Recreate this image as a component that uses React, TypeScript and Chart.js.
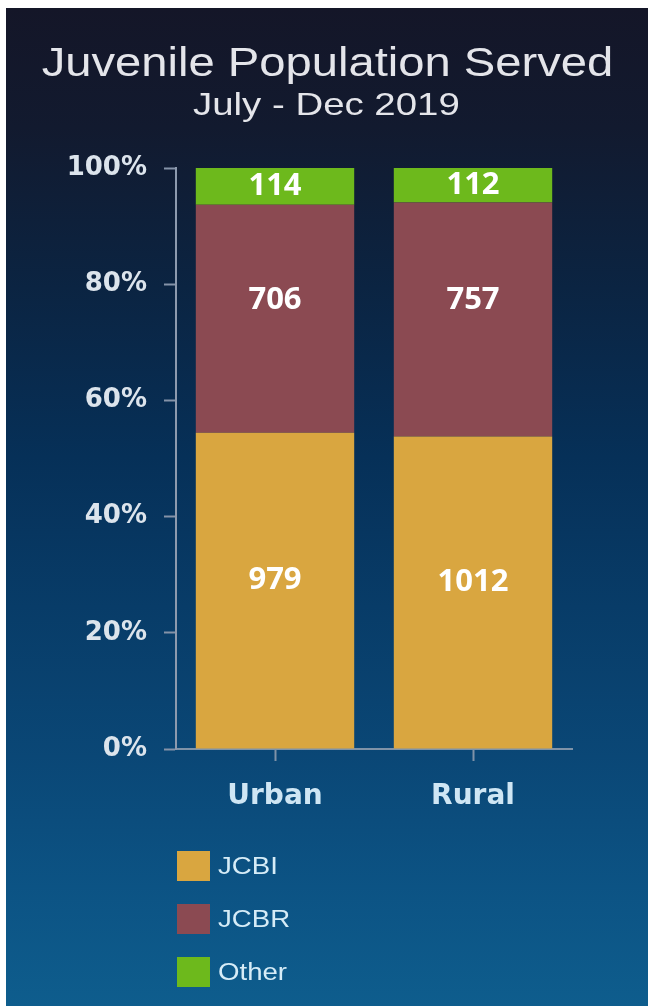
import React, { useEffect, useRef } from 'react';
import { Chart, registerables } from 'chart.js';

Chart.register(...registerables);

// ---- data ----
const categories = ['Urban', 'Rural'];
const jcbiCounts = [979, 1012];
const jcbrCounts = [706, 757];
const otherCounts = [114, 112];
const seriesNames = ['JCBI', 'JCBR', 'Other'];
const seriesColors = ['#d9a640', '#8b4a52', '#6db91c'];
const yTickStep = 20;
const titleText = 'Juvenile Population Served';
const subtitleText = 'July - Dec 2019';

// label lift (px) per series, styling only
const labelLift = [10, 19, 0];

const W = 642;
const H = 998;

export default function App() {
  const canvasRef = useRef<HTMLCanvasElement>(null);

  useEffect(() => {
    const canvas = canvasRef.current;
    if (!canvas) return;
    const series = [jcbiCounts, jcbrCounts, otherCounts];
    const totals = categories.map((_, i) => jcbiCounts[i] + jcbrCounts[i] + otherCounts[i]);

    const segLabels = {
      id: 'segLabels',
      afterDatasetsDraw(chart: any) {
        const ctx = chart.ctx;
        ctx.save();
        ctx.fillStyle = '#ffffff';
        ctx.font = 'bold 31px "Open Sans"';
        ctx.textAlign = 'center';
        ctx.textBaseline = 'middle';
        chart.data.datasets.forEach((ds: any, di: number) => {
          const meta = chart.getDatasetMeta(di);
          meta.data.forEach((el: any, i: number) => {
            const { x, y, base } = el.getProps(['x', 'y', 'base'], true);
            const cy = (y + base) / 2 - labelLift[di];
            ctx.fillText(String(ds.counts[i]), x, cy);
          });
        });
        ctx.restore();
      },
    };

    const chart = new Chart(canvas, {
      type: 'bar',
      data: {
        labels: categories,
        datasets: series.map((counts, si) => ({
          label: seriesNames[si],
          data: counts.map((c, i) => (c / totals[i]) * 100),
          counts,
          backgroundColor: seriesColors[si],
          borderWidth: 0,
          categoryPercentage: 1,
          barPercentage: 0.8,
        })) as any,
      },
      options: {
        animation: false,
        responsive: true,
        maintainAspectRatio: false,
        layout: { padding: { left: 0, right: 76, top: 160, bottom: 197 } },
        plugins: {
          legend: { display: false },
          tooltip: { enabled: false },
          title: { display: false },
        },
        scales: {
          x: {
            stacked: true,
            afterFit(scale: any) {
              scale.height = 60;
            },
            grid: {
              display: true,
              offset: false,
              drawOnChartArea: false,
              drawTicks: true,
              tickLength: 12,
              tickWidth: 2,
              tickColor: '#7f93a8',
            },
            border: { display: true, color: '#7f93a8', width: 2 },
            ticks: {
              color: '#cfe6f4',
              padding: 19,
              font: { family: '"DejaVu Sans"', size: 28, weight: 'bold' },
            },
          },
          y: {
            stacked: true,
            min: 0,
            max: 100,
            afterFit(scale: any) {
              scale.width = 170;
            },
            grid: {
              display: true,
              drawOnChartArea: false,
              drawTicks: true,
              tickLength: 12,
              tickWidth: 2,
              tickColor: '#8593a8',
            },
            border: { display: true, color: '#8d9aae', width: 2 },
            ticks: {
              stepSize: yTickStep,
              padding: 17,
              color: '#dce4ec',
              font: { family: '"DejaVu Sans"', size: 26, weight: 'bold' },
              callback: (v: any) => `${v}%`,
            },
          },
        },
      },
      plugins: [segLabels],
    });

    return () => chart.destroy();
  }, []);

  const textBase: React.CSSProperties = {
    position: 'absolute',
    left: 0,
    width: W,
    textAlign: 'center',
    fontFamily: '"Liberation Sans", Arial, sans-serif',
    color: '#e4e5ea',
    whiteSpace: 'nowrap',
  };

  return (
    <div
      style={{
        position: 'fixed',
        left: 6,
        top: 8,
        width: W,
        height: H,
        background:
          'linear-gradient(to bottom, #141628 0%, #121a2f 12%, #0b2442 28%, #063058 45%, #083c68 60%, #0a4776 75%, #0c5384 88%, #0e5d8d 100%)',
        overflow: 'hidden',
      }}
    >
      <div style={{ position: 'absolute', left: 0, top: 0, width: W, height: H }}>
        <canvas ref={canvasRef} />
      </div>
      <div
        style={{
          ...textBase,
          top: 30,
          fontSize: 41,
          lineHeight: '48px',
          transform: 'scaleX(1.15)',
          transformOrigin: '318px 0',
        }}
      >
        {titleText}
      </div>
      <div
        style={{
          ...textBase,
          top: 77,
          fontSize: 32,
          lineHeight: '38px',
          transform: 'scaleX(1.2)',
          transformOrigin: '324px 0',
        }}
      >
        {subtitleText}
      </div>
      <div style={{ position: 'absolute', left: 171, top: 843 }}>
        {seriesNames.map((name, i) => (
          <div
            key={name}
            style={{ display: 'flex', alignItems: 'center', height: 30, marginBottom: 23 }}
          >
            <div style={{ width: 33, height: 30, background: seriesColors[i] }} />
            <div
              style={{
                marginLeft: 8,
                fontFamily: '"Liberation Sans", Arial, sans-serif',
                fontSize: 23,
                color: '#d6ecf7',
                transform: 'scaleX(1.2)',
                transformOrigin: 'left center',
                lineHeight: '30px',
              }}
            >
              {name}
            </div>
          </div>
        ))}
      </div>
    </div>
  );
}
